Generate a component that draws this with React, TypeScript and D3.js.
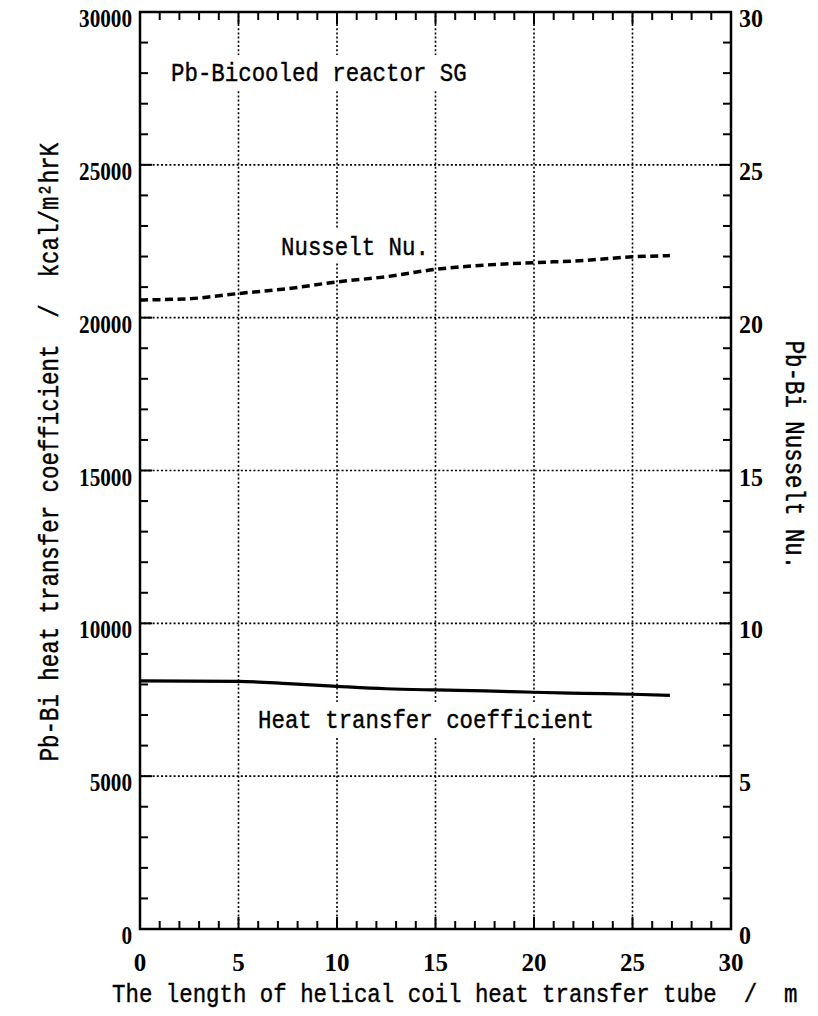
import React from "react";
import * as d3 from "d3";

const xTicksMajor = [0, 5, 10, 15, 20, 25, 30];
const yTicksLeft = [0, 5000, 10000, 15000, 20000, 25000, 30000];
const yTicksRight = [0, 5, 10, 15, 20, 25, 30];

const nuLength = [0, 2.5, 5, 7.5, 10, 12.5, 15, 17.5, 20, 22.5, 25, 26.9];
const nusselt = [20.58, 20.62, 20.79, 20.95, 21.17, 21.34, 21.58, 21.72, 21.8, 21.87, 21.99, 22.03];

const htcLength = [0, 5, 7.5, 10, 12.5, 15, 17.5, 20, 22.5, 25, 26.9];
const htc = [8120, 8100, 8030, 7940, 7860, 7820, 7790, 7745, 7710, 7680, 7640];

const W = 818;
const H = 1016;
const M = { left: 140, right: 87, top: 12, bottom: 87 };
const CW = 13.45;
const MONO = "'Liberation Mono', 'DejaVu Sans Mono', monospace";
const SERIF = "'Liberation Serif', 'DejaVu Serif', serif";

// Monospace text: font size chosen so the natural advance equals the cell width,
// then stretched vertically to match the tall half-width glyphs of the original.
function MonoText({ x, y, text, anchor = "start", rotate = 0, bg = false, sy = 1.17 }: any) {
  const fs = CW / 0.6;
  const len = text.length * CW;
  const x0 = anchor === "middle" ? -len / 2 : 0;
  return (
    <g transform={`translate(${x},${y}) rotate(${rotate})`}>
      {bg && <rect x={x0 - 4} y={-26} width={len + 8} height={34} fill="#fff" />}
      <text
        x={x0}
        y={0}
        transform={`scale(1,${sy})`}
        fontFamily={MONO}
        fontSize={fs}
        style={{ whiteSpace: "pre" }}
        fill="#000"
        stroke="#000"
        strokeWidth={0.35}
      >
        {text}
      </text>
    </g>
  );
}

function Num({ x, y, text, anchor, cw }: any) {
  const s = String(text);
  const fs = cw * 2;
  const sy = 25 / fs;
  return (
    <g transform={`translate(${x},${y})`}>
      <text
        x={0}
        y={0}
        transform={`scale(1,${sy})`}
        textAnchor={anchor}
        fontFamily={SERIF}
        fontWeight="bold"
        fontSize={fs}
        fill="#000"
      >
        {s}
      </text>
    </g>
  );
}

export default function App() {
  const x = d3.scaleLinear().domain([0, 30]).range([M.left, W - M.right]);
  const y = d3.scaleLinear().domain([0, 30000]).range([H - M.bottom, M.top]);
  const yR = d3.scaleLinear().domain([0, 30]).range([H - M.bottom, M.top]);

  const x0 = x(0), x1 = x(30), y0 = y(0), y1 = y(30000);

  const nuLine = d3
    .line<number>()
    .x((_, i) => x(nuLength[i]))
    .y((d) => yR(d))
    .curve(d3.curveMonotoneX)(nusselt) as string;
  const htcLine = d3
    .line<number>()
    .x((_, i) => x(htcLength[i]))
    .y((d) => y(d))
    .curve(d3.curveMonotoneX)(htc) as string;

  const xMinor = d3.range(1, 30);
  const yMinor = d3.range(1000, 30000, 1000);
  const tick = 8;

  return (
    <svg width={W} height={H} style={{ position: "absolute", left: 0, top: 0, background: "#fff" }}>
      <rect x={0} y={0} width={W} height={H} fill="#fff" />
      {/* grid */}
      {xTicksMajor.slice(1, -1).map((t) => (
        <line key={"gx" + t} x1={x(t)} x2={x(t)} y1={y0} y2={y1} stroke="#000" strokeWidth={1.6} strokeDasharray="2,2.2" />
      ))}
      {yTicksLeft.slice(1, -1).map((t) => (
        <line key={"gy" + t} x1={x0} x2={x1} y1={y(t)} y2={y(t)} stroke="#000" strokeWidth={1.6} strokeDasharray="2,2.2" />
      ))}
      {/* minor ticks */}
      {xMinor.map((t) => (
        <g key={"tx" + t}>
          <line x1={x(t)} x2={x(t)} y1={y0} y2={y0 - (t % 5 === 0 ? 12 : tick)} stroke="#000" strokeWidth={2} />
          <line x1={x(t)} x2={x(t)} y1={y1} y2={y1 + (t % 5 === 0 ? 12 : tick)} stroke="#000" strokeWidth={2} />
        </g>
      ))}
      {yMinor.map((t) => (
        <g key={"ty" + t}>
          <line x1={x0} x2={x0 + (t % 5000 === 0 ? 12 : tick)} y1={y(t)} y2={y(t)} stroke="#000" strokeWidth={2} />
          <line x1={x1} x2={x1 - (t % 5000 === 0 ? 12 : tick)} y1={y(t)} y2={y(t)} stroke="#000" strokeWidth={2} />
        </g>
      ))}
      {/* in-plot labels */}
      <MonoText x={171} y={81} text="Pb-Bicooled reactor SG" bg />
      <MonoText x={281} y={255} text="Nusselt Nu." bg />
      <MonoText x={258} y={728} text="Heat transfer coefficient" bg />
      {/* lines */}
      <path d={nuLine} fill="none" stroke="#000" strokeWidth={3.5} strokeDasharray="8,4.5" />
      <path d={htcLine} fill="none" stroke="#000" strokeWidth={3.2} />
      {/* frame */}
      <rect x={x0} y={y1} width={x1 - x0} height={y0 - y1} fill="none" stroke="#000" strokeWidth={2.5} />
      {/* tick labels */}
      {yTicksLeft.map((t) => (
        <Num key={"ly" + t} x={132} y={y(t) + 15} anchor="end" text={t} cw={10.6} />
      ))}
      {yTicksRight.map((t) => (
        <Num key={"ry" + t} x={739} y={yR(t) + 15} anchor="start" text={t} cw={12} />
      ))}
      {xTicksMajor.map((t) => (
        <Num key={"lx" + t} x={x(t)} y={971} anchor="middle" text={t} cw={12.5} />
      ))}
      {/* axis titles */}
      <MonoText x={112} y={1002} text="The length of helical coil heat transfer tube  /  m" />
      <MonoText
        x={58}
        y={452}
        anchor="middle"
        rotate={-90}
        sy={1.25}
        text="Pb-Bi heat transfer coefficient  /  kcal/m²hrK"
      />
      <MonoText x={786} y={455} anchor="middle" rotate={90} sy={1.25} text="Pb-Bi Nusselt Nu." />
    </svg>
  );
}
